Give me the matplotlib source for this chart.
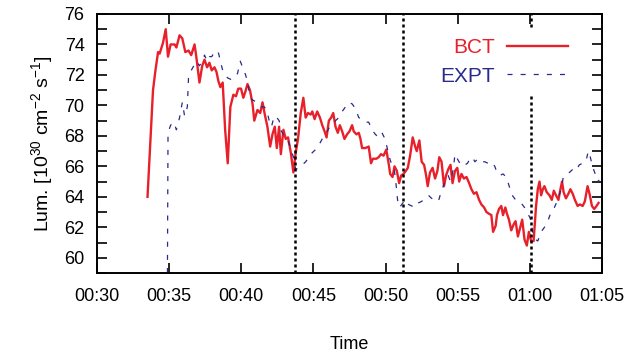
import matplotlib
matplotlib.use("Agg")
import matplotlib.pyplot as plt
from matplotlib.ticker import MultipleLocator, FuncFormatter

plt.rcParams['font.family'] = ['Liberation Sans', 'DejaVu Sans']
plt.rcParams['mathtext.default'] = 'regular'

# time in minutes after 00:00, luminosity in 1e30 cm^-2 s^-1
bct_t = [33.50, 33.88, 34.05, 34.23, 34.34, 34.57, 34.76, 34.92, 35.10, 35.38,
         35.50, 35.72, 35.91, 36.12, 36.34, 36.53, 36.76, 36.88, 37.10, 37.29,
         37.45, 37.63, 37.79, 37.95, 38.14, 38.28, 38.41, 38.55, 38.71, 38.88,
         39.06, 39.24, 39.45, 39.63, 39.79, 39.98, 40.14, 40.28, 40.43, 40.60,
         40.78, 40.90, 41.12, 41.31, 41.47, 41.63, 41.81, 42.00, 42.16, 42.32,
         42.46, 42.62, 42.74, 42.92, 43.08, 43.24, 43.43, 43.61, 43.77, 43.93,
         44.12, 44.30, 44.46, 44.62, 44.81, 44.92, 45.08, 45.26, 45.45, 45.61,
         45.77, 45.91, 46.07, 46.23, 46.37, 46.53, 46.69, 46.83, 46.99, 47.15,
         47.33, 47.50, 47.68, 47.79, 47.98, 48.14, 48.26, 48.37, 48.60, 48.83,
         48.99, 49.12, 49.36, 49.52, 49.68, 49.86, 50.05, 50.21, 50.32, 50.48,
         50.62, 50.78, 50.94, 51.08, 51.24, 51.40, 51.54, 51.70, 51.88, 52.05,
         52.16, 52.34, 52.50, 52.67, 52.81, 52.92, 53.08, 53.26, 53.43, 53.59,
         53.72, 53.88, 54.05, 54.19, 54.34, 54.50, 54.64, 54.81, 54.97, 55.10,
         55.26, 55.43, 55.61, 55.79, 55.95, 56.12, 56.30, 56.48, 56.64, 56.83,
         56.99, 57.15, 57.33, 57.45, 57.63, 57.72, 57.86, 58.02, 58.14, 58.30,
         58.41, 58.55, 58.71, 58.88, 59.01, 59.17, 59.33, 59.47, 59.63, 59.79,
         59.93, 60.09, 60.26, 60.43, 60.55, 60.67, 60.78, 60.90, 61.01, 61.17,
         61.36, 61.52, 61.66, 61.81, 61.98, 62.12, 62.23, 62.34, 62.50, 62.67,
         62.81, 62.97, 63.12, 63.31, 63.47, 63.66, 63.81, 64.00, 64.16, 64.30,
         64.46, 64.62, 64.76]
bct_lum = [64.0, 71.0, 72.3, 73.5, 73.4, 74.1, 75.0, 73.2, 74.0, 74.0,
           73.8, 74.6, 74.4, 73.5, 73.6, 73.3, 74.0, 73.2, 71.5, 72.6,
           73.0, 72.5, 72.8, 72.3, 72.5, 72.2, 71.6, 71.2, 71.5, 68.4,
           66.2, 69.9, 70.7, 70.6, 71.1, 71.1, 70.5, 70.9, 71.4, 71.0,
           70.1, 69.0, 69.7, 69.5, 70.2, 69.4, 68.6, 67.3, 68.1, 68.6,
           67.2, 68.6, 66.8, 68.4, 67.8, 67.9, 66.9, 65.6, 66.9, 67.8,
           69.5, 70.5, 69.2, 69.5, 69.4, 69.6, 69.1, 69.6, 69.2, 68.7,
           68.3, 67.9, 69.0, 69.2, 69.5, 68.6, 68.2, 68.7, 68.3, 67.8,
           68.1, 68.3, 68.7, 68.3, 68.1, 68.2, 67.8, 67.2, 67.2, 67.3,
           66.2, 66.5, 66.5, 66.6, 66.8, 66.7, 67.1, 66.2, 65.5, 65.3,
           66.0, 65.7, 64.9, 65.4, 65.5, 65.7, 65.9, 66.7, 67.9, 67.3,
           67.0, 67.7, 66.3, 66.1, 65.4, 64.7, 65.6, 65.9, 65.2, 65.7,
           66.6, 66.3, 64.7, 65.4, 65.8, 66.1, 64.9, 65.7, 65.9, 65.0,
           65.5, 65.2, 65.3, 64.9, 64.5, 64.2, 64.3, 63.8, 63.5, 63.3,
           63.0, 62.9, 62.8, 61.7, 62.1, 62.8, 63.2, 63.4, 62.8, 63.3,
           62.9, 62.5, 61.8, 62.2, 62.4, 61.4, 62.0, 62.5, 61.2, 60.8,
           61.7, 61.1, 61.1, 63.4, 64.5, 65.0, 64.1, 64.5, 64.7, 64.3,
           64.1, 63.8, 64.4, 64.1, 63.8, 64.5, 65.0, 64.3, 63.9, 64.2,
           64.5, 64.2, 63.8, 63.4, 63.5, 63.4, 63.7, 64.7, 64.1, 63.4,
           63.2, 63.4, 63.6]

expt_t = [34.88, 34.92, 35.10, 35.33, 35.50, 35.72, 35.91, 36.07, 36.26, 36.34,
          36.53, 36.71, 36.88, 37.10, 37.29, 37.45, 37.63, 37.79, 37.95, 38.14,
          38.32, 38.43, 38.55, 38.71, 38.88, 39.06, 39.29, 39.52, 39.74, 39.93,
          40.09, 40.26, 40.43, 40.55, 40.71, 40.90, 41.08, 41.24, 41.40, 41.59,
          41.77, 41.93, 42.09, 42.28, 42.46, 42.62, 42.78, 42.97, 43.12, 43.31,
          43.47, 43.66, 43.77, 44.00, 44.23, 44.46, 44.69, 44.92, 45.15, 45.38,
          45.61, 45.84, 46.07, 46.30, 46.53, 46.76, 46.99, 47.22, 47.45, 47.68,
          47.91, 48.14, 48.37, 48.60, 48.83, 49.06, 49.29, 49.52, 49.75, 49.91,
          50.09, 50.26, 50.43, 50.60, 50.74, 50.83, 50.97, 51.12, 51.36, 51.59,
          51.81, 52.05, 52.28, 52.50, 52.74, 52.97, 53.19, 53.43, 53.66, 53.84,
          54.00, 54.19, 54.34, 54.50, 54.69, 54.81, 54.97, 55.15, 55.33, 55.50,
          55.68, 55.84, 56.02, 56.19, 56.41, 56.64, 56.88, 57.10, 57.33, 57.57,
          57.68, 57.91, 58.14, 58.37, 58.60, 58.78, 59.01, 59.24, 59.47, 59.63,
          59.86, 60.02, 60.21, 60.39, 60.55, 60.78, 61.01, 61.24, 61.47, 61.70,
          61.93, 62.16, 62.32, 62.50, 62.74, 62.97, 63.19, 63.43, 63.66, 63.88,
          64.05, 64.19, 64.34, 64.53, 64.69, 64.81]
expt_lum = [59.0, 68.2, 68.7, 68.9, 68.4, 69.2, 70.2, 69.3, 69.9, 71.8,
            72.3, 72.6, 72.9, 72.6, 72.9, 73.3, 72.9, 73.2, 73.2, 73.5,
            73.6, 73.4, 72.9, 72.3, 72.0, 71.8, 71.7, 71.8, 72.1, 72.9,
            72.5, 72.1, 71.6, 70.8, 70.4, 70.3, 70.2, 70.1, 69.9, 69.9,
            69.7, 69.0, 68.6, 69.3, 69.2, 69.0, 68.3, 68.0, 67.9, 67.5,
            67.0, 66.5, 65.8, 65.9, 66.1, 66.3, 66.6, 66.9, 67.1, 67.4,
            67.8, 68.1, 68.5, 68.7, 69.0, 69.2, 69.6, 69.9, 70.2, 70.1,
            69.8, 69.2, 69.1, 68.9, 68.9, 68.4, 68.1, 67.9, 68.2, 67.9,
            67.3, 66.6, 66.1, 65.8, 64.7, 63.8, 63.3, 63.5, 63.8, 63.5,
            63.4, 63.3, 63.6, 63.7, 63.9, 64.1, 63.9, 63.8, 63.7, 64.3,
            64.7, 65.2, 65.4, 65.0, 65.8, 66.8, 66.5, 66.2, 66.0, 66.1,
            66.2, 66.5, 66.6, 66.3, 66.5, 66.3, 66.3, 66.2, 66.3, 66.0,
            65.7, 65.4, 65.5, 65.3, 64.6, 64.1, 63.8, 63.7, 63.5, 63.3,
            62.9, 62.6, 61.6, 61.2, 61.1, 61.7, 62.0, 62.4, 63.0, 63.3,
            63.8, 64.5, 65.3, 65.5, 65.6, 65.8, 65.7, 66.1, 66.2, 66.3,
            67.0, 66.6, 66.0, 65.5, 65.0, 65.1]

# event markers (minutes)
event_t = [43.72, 51.24, 60.07]


def fmt_time(x, pos):
    m = int(round(x))
    return "%02d:%02d" % (m // 60, m % 60)


fig = plt.figure(figsize=(6.28, 3.54), dpi=100)
ax = fig.add_axes([0.1545, 0.2288, 0.8041, 0.7317])

ax.plot(bct_t, bct_lum, color='#e8202a', lw=1.7, label='BCT')
ax.plot(expt_t, expt_lum, color='#2a2a8a', lw=0.9, dashes=(4, 6.5), label='EXPT')
for t in event_t:
    ax.axvline(t, color='black', lw=1.8, linestyle=(0, (1.2, 1.2)))

ax.set_xlim(30, 65)
ax.set_ylim(59, 76)
ax.xaxis.set_major_locator(MultipleLocator(5))
ax.xaxis.set_major_formatter(FuncFormatter(fmt_time))
ax.yaxis.set_minor_locator(MultipleLocator(1))
ax.set_yticks(range(60, 77, 2))
ax.tick_params(which='both', direction='in', top=True, right=True,
               labelsize=13, width=1.2)
ax.tick_params(axis='x', which='major', length=7, pad=11)
ax.tick_params(axis='y', which='major', length=7, pad=9)
ax.tick_params(axis='y', which='minor', length=7)
for s in ax.spines.values():
    s.set_linewidth(1.4)

ax.set_xlabel('Time', fontsize=13, labelpad=22)
ax.set_ylabel('Lum. [10$^{30}$ cm$^{-2}$ s$^{-1}$]', fontsize=14, labelpad=7)

leg = ax.legend(loc='upper right', bbox_to_anchor=(0.9485, 0.938), markerfirst=False,
                fontsize=15, handlelength=2.9, handletextpad=0.6, labelspacing=0.45,
                borderpad=0.4, borderaxespad=0, frameon=True, fancybox=False,
                framealpha=1, edgecolor='none', facecolor='white')
for txt, line in zip(leg.get_texts(), leg.get_lines()):
    txt.set_color(line.get_color())

fig.savefig('out.png', dpi=100)
